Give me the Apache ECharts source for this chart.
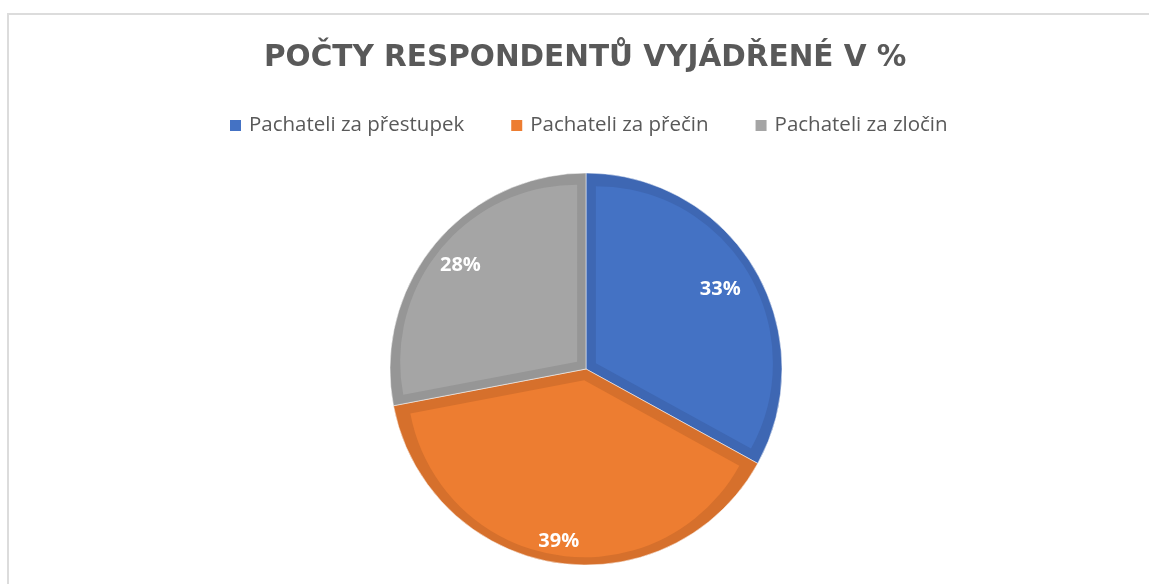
<!DOCTYPE html>
<html>
<head>
<meta charset="utf-8">
<style>
  html, body { margin: 0; padding: 0; background: #fff; }
  #chartArea { width: 1149px; height: 584px; }
</style>
<script src="https://cdn.jsdelivr.net/npm/echarts@6/dist/echarts.min.js"></script>
</head>
<body>
<div id="chartArea"></div>
<script>
// data
const categories = ['Pachateli za přestupek', 'Pachateli za přečin', 'Pachateli za zločin'];
const values = [33, 39, 28];
const fillColors = ['#4472c4', '#ed7d31', '#a5a5a5'];
const edgeColors = ['#3e67b3', '#d6702c', '#969696'];

// label distance from the centre (outer radius of a transparent label pie)
const labelRadius = [306, 342, 320];

const chartDom = document.getElementById('chartArea');
const myChart = echarts.init(chartDom);

const pieData = categories.map((name, i) => ({ name, value: values[i] }));
const textFont = '"Open Sans", "Noto Sans", sans-serif';
const pieCenter = [586, 369];

// one transparent pie per slice, only to place each label at its own radius
const labelSeries = labelRadius.map((r, k) => ({
    type: 'pie',
    center: pieCenter,
    radius: [0, r],
    startAngle: 90,
    clockwise: true,
    silent: true,
    z: 4,
    itemStyle: { color: 'rgba(0,0,0,0)' },
    label: {
        show: true,
        position: 'inside',
        formatter: '{d}%',
        fontFamily: textFont,
        fontSize: 20,
        fontWeight: 'bold',
        color: '#ffffff'
    },
    labelLine: { show: false },
    data: pieData.map((d, i) => ({ ...d, label: { show: i === k } }))
}));

const option = {
    animation: false,
    title: {
        text: 'POČTY RESPONDENTŮ VYJÁDŘENÉ V %',
        left: 259,
        top: 38,
        textStyle: {
            fontFamily: '"DejaVu Sans", sans-serif',
            fontSize: 29.5,
            fontWeight: 'bold',
            color: '#595959'
        }
    },
    legend: {
        top: 110,
        left: 225,
        icon: 'rect',
        itemWidth: 11,
        itemHeight: 11,
        itemGap: 47,
        selectedMode: false,
        data: categories.map((name, i) => ({ name, itemStyle: { color: fillColors[i] } })),
        textStyle: {
            fontFamily: textFont,
            fontSize: 20.5,
            color: '#595959',
            padding: [0, 0, 0, 3]
        }
    },
    graphic: [{
        type: 'rect',
        silent: true,
        shape: { x: 8, y: 14, width: 1160, height: 600 },
        style: { fill: 'none', stroke: '#dcdcdc', lineWidth: 2 }
    }],
    series: [
        {
            // lighter inner part of each slice, pushed inward so a dark rim shows
            type: 'pie',
            center: pieCenter,
            radius: [0, 177],
            startAngle: 90,
            clockwise: true,
            selectedMode: 'multiple',
            selectedOffset: 11.5,
            z: 3,
            label: { show: false },
            labelLine: { show: false },
            emphasis: { disabled: true },
            data: pieData.map((d, i) => ({
                ...d,
                selected: true,
                itemStyle: { color: fillColors[i], borderWidth: 0 },
                select: { itemStyle: { color: fillColors[i], borderWidth: 0 } }
            }))
        },
        {
            // darker rim of each slice
            type: 'pie',
            center: pieCenter,
            radius: [0, 196],
            startAngle: 90,
            clockwise: true,
            silent: true,
            z: 2,
            label: { show: false },
            labelLine: { show: false },
            itemStyle: { borderColor: '#ffffff', borderWidth: 0.5 },
            data: pieData.map((d, i) => ({ ...d, itemStyle: { color: edgeColors[i] } }))
        },
        ...labelSeries
    ]
};

myChart.setOption(option);

window.addEventListener('resize', () => {
    myChart.resize();
});
</script>
</body>
</html>
